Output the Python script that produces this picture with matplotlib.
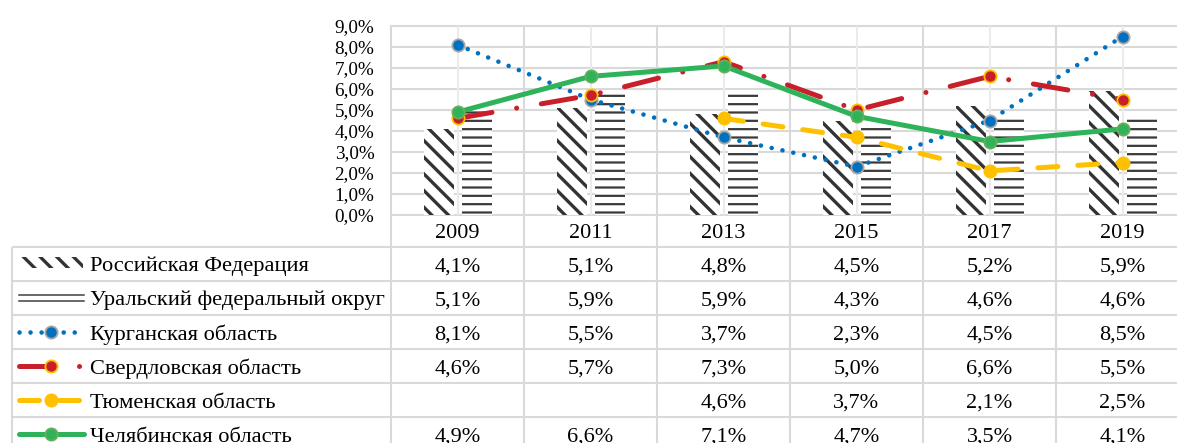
#!/usr/bin/env python3
"""
Unemployment-style chart with Excel-like data table: bars for RF / UFO,
lines for the four regions, values repeated in a table under the axis.
"""

import numpy as np
import matplotlib
matplotlib.use("Agg")
import matplotlib.pyplot as plt
from matplotlib.patches import Rectangle

plt.rcParams['font.family'] = ['Liberation Serif', 'DejaVu Serif']

# --- data -------------------------------------------------------------
years = ["2009", "2011", "2013", "2015", "2017", "2019"]
rf = [4.1, 5.1, 4.8, 4.5, 5.2, 5.9]
ufo = [5.1, 5.9, 5.9, 4.3, 4.6, 4.6]
kurgan = [8.1, 5.5, 3.7, 2.3, 4.5, 8.5]
sverdlovsk = [4.6, 5.7, 7.3, 5.0, 6.6, 5.5]
tyumen = [np.nan, np.nan, 4.6, 3.7, 2.1, 2.5]
chelyabinsk = [4.9, 6.6, 7.1, 4.7, 3.5, 4.1]

row_labels = ["Российская Федерация", "Уральский федеральный округ",
              "Курганская область", "Свердловская область",
              "Тюменская область", "Челябинская область"]

# --- layout (pixels of the 1177x443 canvas) ---------------------------
W, H = 1177, 443
X0 = 391.0          # left edge of plot area
COL = 133.0         # width of one category
Y_TOP, Y_BOT = 26.0, 215.0
T_TOP, RH = 246.5, 34.1
TXT_SHIFT = 0.09    # text sits a bit below row centre
GRID = '#d9d9d9'
HATCH_D = '#333333'
HATCH_H = '#3a3a3a'


def px2x(p):
    return -0.5 + (p - X0) / COL


def fmt(v):
    return f"{v:.1f}%".replace('.', ',')


line_styles = [
    dict(color='#0070C0', lw=3.3, dashes=(0.01, 2.4), mfc='#0070C0', mec='#A6A6A6'),
    dict(color='#C8202A', lw=3.6, dashes=(7, 5, 0.01, 5), mfc='#C8202A', mec='#FFC000'),
    dict(color='#FFC000', lw=3.6, dashes=(4, 4), mfc='#FFC000', mec='#FFC000'),
    dict(color='#2EB35A', lw=3.6, dashes=None, mfc='#2EB35A', mec='#6AAE5A'),
]
line_series = [kurgan, sverdlovsk, tyumen, chelyabinsk]
MS = 8.8


def plot_line(axis, xs, ys, st, **kw):
    kwargs = dict(color=st['color'], lw=st['lw'], dash_capstyle='round',
                  solid_capstyle='round', zorder=3, clip_on=False)
    if st['dashes'] is not None:
        kwargs['dashes'] = st['dashes']
    kwargs.update(kw)
    axis.plot(xs, ys, **kwargs)


fig = plt.figure(figsize=(W / 100, H / 100), dpi=100)
fig.patch.set_facecolor('white')

# --- chart ------------------------------------------------------------
ax = fig.add_axes([X0 / W, 1 - Y_BOT / H, 6 * COL / W, (Y_BOT - Y_TOP) / H])
ax.set_xlim(-0.5, 5.5)
ax.set_ylim(0, 9)
ax.patch.set_visible(False)
for s in ax.spines.values():
    s.set_visible(False)

x = np.arange(len(years))
ax.hlines(np.arange(0, 10), -0.5, 5.5, color=GRID, lw=1.5, zorder=0, clip_on=False)
ax.vlines(x, 0, 9, color='#ebebeb', lw=1.5, zorder=0)
ext = -(T_TOP + 6 * RH - Y_BOT) / (Y_BOT - Y_TOP)
for b in np.arange(-0.5, 5.0, 1.0):
    ax.axvline(b, ymin=ext, ymax=1, color=GRID, lw=1.5, zorder=0, clip_on=False)

off = 19 / COL
bw = 30 / COL
with plt.rc_context({'hatch.linewidth': 2.4}):
    bars1 = ax.bar(x - off, rf, bw, color='white', edgecolor=HATCH_D, lw=0,
                   hatch='\\\\', zorder=1)
with plt.rc_context({'hatch.linewidth': 1.6}):
    bars2 = ax.bar(x + off, ufo, bw, color='white', edgecolor=HATCH_H, lw=0,
                   hatch='--', zorder=1)
for p in bars1:
    if hasattr(p, 'set_hatch_linewidth'):
        p.set_hatch_linewidth(2.4)
for p in bars2:
    if hasattr(p, 'set_hatch_linewidth'):
        p.set_hatch_linewidth(1.6)

for vals, st in zip(line_series, line_styles):
    plot_line(ax, x, np.array(vals, dtype=float), st, marker='o', ms=MS,
              mfc=st['mfc'], mec=st['mec'], mew=1.3)

ax.set_yticks(range(10))
ax.set_yticklabels([fmt(v) for v in range(10)], fontsize=13.8)
ax.set_xticks(x)
ax.set_xticklabels(years, fontsize=16)
ax.tick_params(axis='y', length=0, pad=12)
ax.tick_params(axis='x', length=0, pad=6.5)

# --- data table -------------------------------------------------------
tax = fig.add_axes([12 / W, 1 - (T_TOP + 6 * RH) / H, (X0 + 6 * COL - 12) / W, 6 * RH / H])
tax.set_xlim(px2x(12), 5.5)
tax.set_ylim(6, 0)
tax.axis('off')
tax.patch.set_visible(False)
tax.hlines(range(7), px2x(12), 5.5, color=GRID, lw=1.5, clip_on=False)
tax.vlines(px2x(12), 0, 6, color=GRID, lw=1.5, clip_on=False)

table_rows = [rf, ufo, kurgan, sverdlovsk, tyumen, chelyabinsk]
for r, vals in enumerate(table_rows):
    for c, v in enumerate(vals):
        if not np.isnan(v):
            tax.text(c, r + 0.5 + TXT_SHIFT, fmt(v), ha='center', va='center',
                     fontsize=16)
    tax.text(px2x(90), r + 0.5 + TXT_SHIFT, row_labels[r], ha='left',
             va='center', fontsize=16.2)

# legend keys
with plt.rc_context({'hatch.linewidth': 2.4}):
    key = Rectangle((px2x(20), 0.3), px2x(83) - px2x(20), 0.34, facecolor='white',
                    edgecolor=HATCH_D, lw=0, hatch='\\\\')
    if hasattr(key, 'set_hatch_linewidth'):
        key.set_hatch_linewidth(2.4)
    tax.add_patch(key)
for yy in (1.42, 1.6):
    tax.plot([px2x(19), px2x(84)], [yy, yy], color='#404040', lw=1.1)
for r, st in enumerate(line_styles, start=2):
    plot_line(tax, [px2x(19), px2x(84)], [r + 0.5, r + 0.5], st)
    tax.plot([px2x(51)], [r + 0.5], marker='o', ms=MS, mfc=st['mfc'],
             mec=st['mec'], mew=1.3, zorder=4)

fig.savefig('out.png', dpi=100)
